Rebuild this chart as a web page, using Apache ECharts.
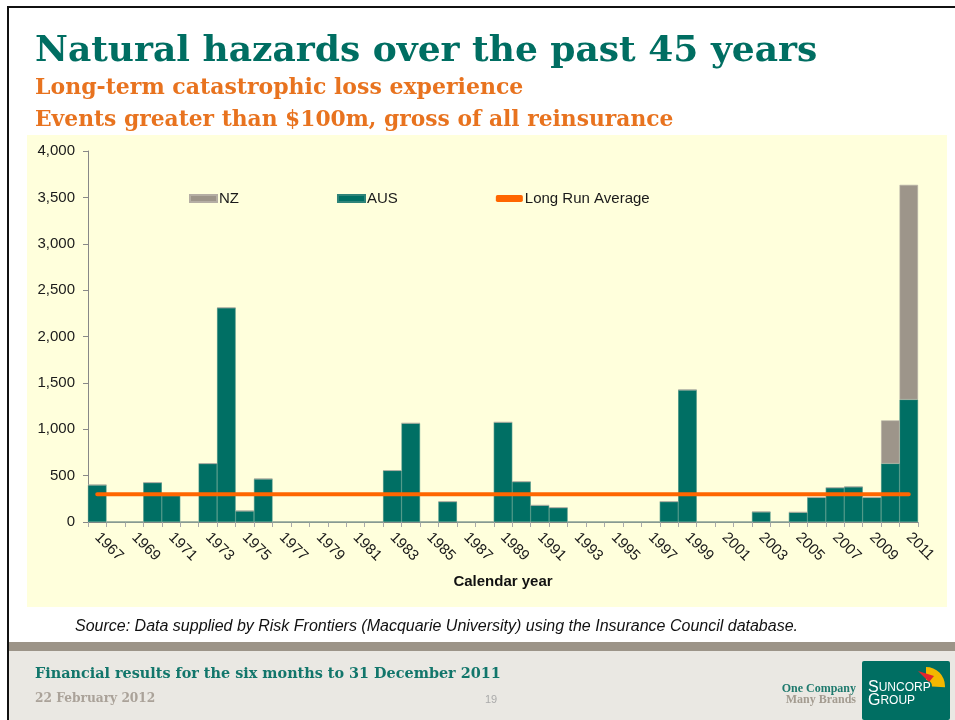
<!DOCTYPE html>
<html>
<head>
<meta charset="utf-8">
<script src="https://cdn.jsdelivr.net/npm/echarts@6/dist/echarts.min.js"></script>
<style>
  html, body { margin: 0; padding: 0; background: #fff; }
  #chart { width: 955px; height: 720px; }
</style>
</head>
<body>
<div id="chart"></div>
<script>
// calendar years on the x axis
const years = ['1967', '1968', '1969', '1970', '1971', '1972', '1973', '1974', '1975', '1976',
    '1977', '1978', '1979', '1980', '1981', '1982', '1983', '1984', '1985', '1986',
    '1987', '1988', '1989', '1990', '1991', '1992', '1993', '1994', '1995', '1996',
    '1997', '1998', '1999', '2000', '2001', '2002', '2003', '2004', '2005', '2006',
    '2007', '2008', '2009', '2010', '2011'];
// losses, $m
const ausLoss = [400, 0, 0, 425, 285, 0, 630, 2310, 120, 465,
    0, 0, 0, 0, 0, 0, 555, 1065, 0, 220,
    0, 0, 1075, 435, 180, 155, 0, 0, 0, 0,
    0, 220, 1425, 0, 0, 0, 110, 0, 105, 265,
    370, 380, 265, 630, 1320];
const nzLoss = [0, 0, 0, 0, 0, 0, 0, 0, 0, 0,
    0, 0, 0, 0, 0, 0, 0, 0, 0, 0,
    0, 0, 0, 0, 0, 0, 0, 0, 0, 0,
    0, 0, 0, 0, 0, 0, 0, 0, 0, 0,
    0, 0, 0, 465, 2315];
const longRunAvg = 300;
const yTicks = { min: 0, max: 4000, step: 500 };

const teal = '#006f64';
const grey = '#9d958a';
const orange = '#ff6600';
const serif = '"DejaVu Serif", "Liberation Serif", serif';

const chart = echarts.init(document.getElementById('chart'), null, { renderer: 'canvas' });

const option = {
    animation: false,
    backgroundColor: '#ffffff',
    textStyle: { fontFamily: 'Arial, "Liberation Sans", sans-serif' },
    graphic: [
        // slide frame
        { type: 'rect', shape: { x: 8, y: 6, width: 947, height: 2 }, style: { fill: '#111' }, z: 1 },
        { type: 'rect', shape: { x: 7, y: 6, width: 2, height: 714 }, style: { fill: '#111' }, z: 1 },
        // chart panel
        { type: 'rect', shape: { x: 27, y: 135, width: 920, height: 472 }, style: { fill: '#ffffdc' }, z: -10 },
        // footer
        { type: 'rect', shape: { x: 9, y: 642, width: 946, height: 9 }, style: { fill: '#9c9488' }, z: 1 },
        { type: 'rect', shape: { x: 9, y: 651, width: 946, height: 69 }, style: { fill: '#eae8e3' }, z: 1 },
        // titles
        {
            type: 'text', left: 35, top: 34, z: 5,
            style: { text: 'Natural hazards over the past 45 years', fill: '#006e62',
                font: 'bold 36px ' + serif }
        },
        {
            type: 'text', left: 35, top: 77, z: 5,
            style: { text: 'Long-term catastrophic loss experience', fill: '#e8731f',
                font: 'bold 22px ' + serif }
        },
        {
            type: 'text', left: 35, top: 109, z: 5,
            style: { text: 'Events greater than $100m, gross of all reinsurance', fill: '#e8731f',
                font: 'bold 21.8px ' + serif }
        },
        {
            type: 'text', left: 75, top: 619, z: 5,
            style: { text: 'Source: Data supplied by Risk Frontiers (Macquarie University) using the Insurance Council database.',
                fill: '#111', font: 'italic 16px "Liberation Sans", Arial, sans-serif' }
        },
        {
            type: 'text', left: 35, top: 667, z: 5,
            style: { text: 'Financial results for the six months to 31 December 2011', fill: '#12766b',
                font: 'bold 14.4px ' + serif }
        },
        {
            type: 'text', left: 35, top: 693, z: 5,
            style: { text: '22 February 2012', fill: '#aaa299',
                font: 'bold 12.2px ' + serif }
        },
        {
            type: 'text', left: 485, top: 694, z: 5,
            style: { text: '19', fill: '#aaaaaa', font: '11px "Liberation Sans", Arial, sans-serif' }
        },
        // logo
        {
            type: 'text', right: 99, top: 683, z: 5,
            style: { text: 'One Company', fill: '#1f7a6e', font: 'bold 12px "Liberation Serif", serif' }
        },
        {
            type: 'text', right: 99, top: 694, z: 5,
            style: { text: 'Many Brands', fill: '#a39b90', font: 'bold 12px "Liberation Serif", serif' }
        },
        { type: 'rect', shape: { x: 862, y: 661, width: 88, height: 59, r: 2 }, style: { fill: '#006e62' }, z: 5 },
        {
            type: 'sector', z: 6,
            shape: { cx: 926, cy: 686, r: 19, r0: 6, startAngle: -Math.PI * 0.5, endAngle: Math.PI * 0.02 },
            style: { fill: '#f3b800' }
        },
        { type: 'polygon', z: 7, shape: { points: [[918, 671], [934, 676], [929, 682]] }, style: { fill: '#e2262c' } },
        {
            type: 'text', left: 868, top: 680, z: 8,
            style: {
                text: '{a|S}{b|UNCORP}\n{a|G}{b|ROUP}',
                fill: '#ffffff',
                rich: {
                    a: { fontSize: 16, fill: '#fff', fontFamily: '"Liberation Sans", sans-serif', lineHeight: 13 },
                    b: { fontSize: 12, fill: '#fff', fontFamily: '"Liberation Sans", sans-serif', lineHeight: 13 }
                }
            }
        }
    ],
    legend: {
        left: 184,
        top: 186,
        itemWidth: 27,
        itemHeight: 7,
        itemGap: 98,
        textStyle: { fontSize: 15, color: '#1a1a1a', padding: [0, 0, 0, -3] },
        data: [
            { name: 'NZ', icon: 'rect' },
            { name: 'AUS', icon: 'rect' },
            { name: 'Long Run Average', icon: 'roundRect' }
        ]
    },
    grid: { left: 88, right: 37, top: 151, bottom: 198 },
    xAxis: {
        type: 'category',
        data: years,
        name: 'Calendar year',
        nameLocation: 'middle',
        nameGap: 52,
        nameTextStyle: { fontSize: 15, fontWeight: 'bold', color: '#111' },
        axisLine: { lineStyle: { color: '#888', width: 1 } },
        axisTick: { show: true, interval: 0, length: 5, lineStyle: { color: '#aaa' } },
        axisLabel: { interval: 1, rotate: -45, fontSize: 15, color: '#1a1a1a', margin: 13 }
    },
    yAxis: {
        type: 'value',
        min: yTicks.min,
        max: yTicks.max,
        interval: yTicks.step,
        axisLine: { show: true, lineStyle: { color: '#888', width: 1 } },
        axisTick: { show: true, length: 5, lineStyle: { color: '#888' } },
        splitLine: { show: false },
        axisLabel: {
            fontSize: 15, color: '#1a1a1a', margin: 13,
            formatter: function(v) { return v.toLocaleString('en-US'); }
        }
    },
    series: [
        {
            name: 'AUS',
            type: 'bar',
            stack: 'loss',
            data: ausLoss,
            barCategoryGap: '0%',
            itemStyle: { color: teal, borderColor: '#2f8479', borderWidth: 0.6 }
        },
        {
            name: 'NZ',
            type: 'bar',
            stack: 'loss',
            data: nzLoss,
            itemStyle: { color: grey, borderColor: '#b5aea4', borderWidth: 0.6 }
        },
        {
            name: 'Long Run Average',
            type: 'line',
            data: years.map(function() { return longRunAvg; }),
            symbol: 'none',
            z: 5,
            lineStyle: { color: orange, width: 4, cap: 'round' },
            itemStyle: { color: orange }
        }
    ]
};

chart.setOption(option);
</script>
</body>
</html>
